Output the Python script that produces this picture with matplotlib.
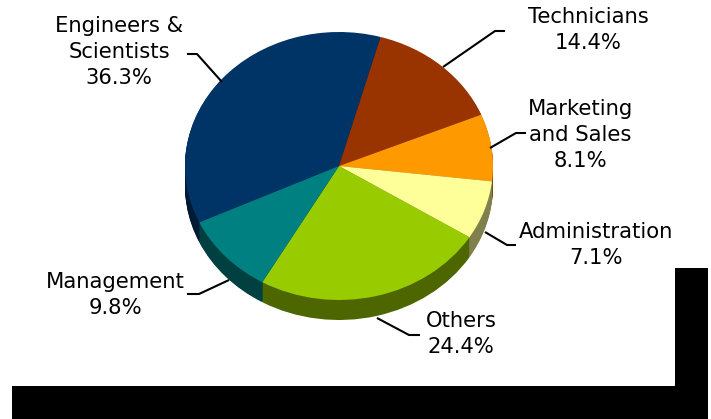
import matplotlib
matplotlib.use("Agg")
import matplotlib.pyplot as plt
from matplotlib.patches import Rectangle

W, H = 711, 419

labels = ["Engineers &\nScientists", "Technicians", "Marketing\nand Sales",
          "Administration", "Others", "Management"]
shares = [36.3, 14.4, 8.1, 7.1, 24.4, 9.8]
top_colors = ["#003366", "#993300", "#FF9900", "#FFFF99", "#99CC00", "#008080"]
side_colors = ["#001A33", "#4D1A00", "#804D00", "#80804D", "#4D6600", "#004040"]
start_angle = 74.2 + 36.3 / 100 * 360

# Label centres and leader polylines, in pixels
label_xy = [(119, 52), (588, 30), (580, 135), (596, 245), (461, 334), (115, 295)]
leaders = [
    [(187, 54), (197, 54), (222, 82)],
    [(505, 31), (495, 31), (443, 67)],
    [(526, 133), (516, 133), (490, 148)],
    [(516, 245), (507, 245), (485, 232)],
    [(420, 335), (409, 335), (377, 318)],
    [(187, 294), (199, 294), (229, 280)],
]

fig = plt.figure(figsize=(W / 100, H / 100), dpi=100, facecolor="white")

# Overlay in pixel coordinates for the frame shape, leaders and labels
overlay = fig.add_axes([0, 0, 1, 1], zorder=3)
overlay.set_xlim(0, W)
overlay.set_ylim(H, 0)
overlay.axis("off")
overlay.patch.set_alpha(0)

# Pie axes: unit circle stretched into the tilted ellipse
cx, cy, rx, ry, depth = 339, 166, 154, 134, 20
ax = fig.add_axes([(cx - rx) / W, 1 - (cy + ry + depth) / H,
                   2 * rx / W, (2 * ry + depth) / H], zorder=2)
ax.patch.set_alpha(0)

# Side wall built from stacked copies of the pie, then the top face
wall_offset = depth / ry
steps = 24
for i in range(steps, 0, -1):
    ax.pie(shares, colors=side_colors, startangle=start_angle, counterclock=False,
           center=(0, -wall_offset * i / steps), radius=1,
           wedgeprops={"linewidth": 0}, frame=True)
ax.pie(shares, colors=top_colors, startangle=start_angle, counterclock=False,
       center=(0, 0), radius=1, wedgeprops={"linewidth": 0}, frame=True)
ax.set_aspect("auto")
ax.set_xlim(-1, 1)
ax.set_ylim(-1 - wall_offset, 1)
ax.axis("off")

for pts in leaders:
    xs, ys = zip(*pts)
    overlay.plot(xs, ys, color="black", lw=1.5, solid_capstyle="butt")

for name, share, (x, y) in zip(labels, shares, label_xy):
    overlay.text(x, y, f"{name}\n{share:.1f}%", ha="center", va="center",
                 fontsize=15.2, family="DejaVu Sans", color="black", linespacing=1.36)

# Black L-shaped band along the lower right
overlay.add_patch(Rectangle((12, 386), 696, 33, color="black", lw=0))
overlay.add_patch(Rectangle((675, 268), 33, 118, color="black", lw=0))

fig.savefig("out.png", dpi=100)
